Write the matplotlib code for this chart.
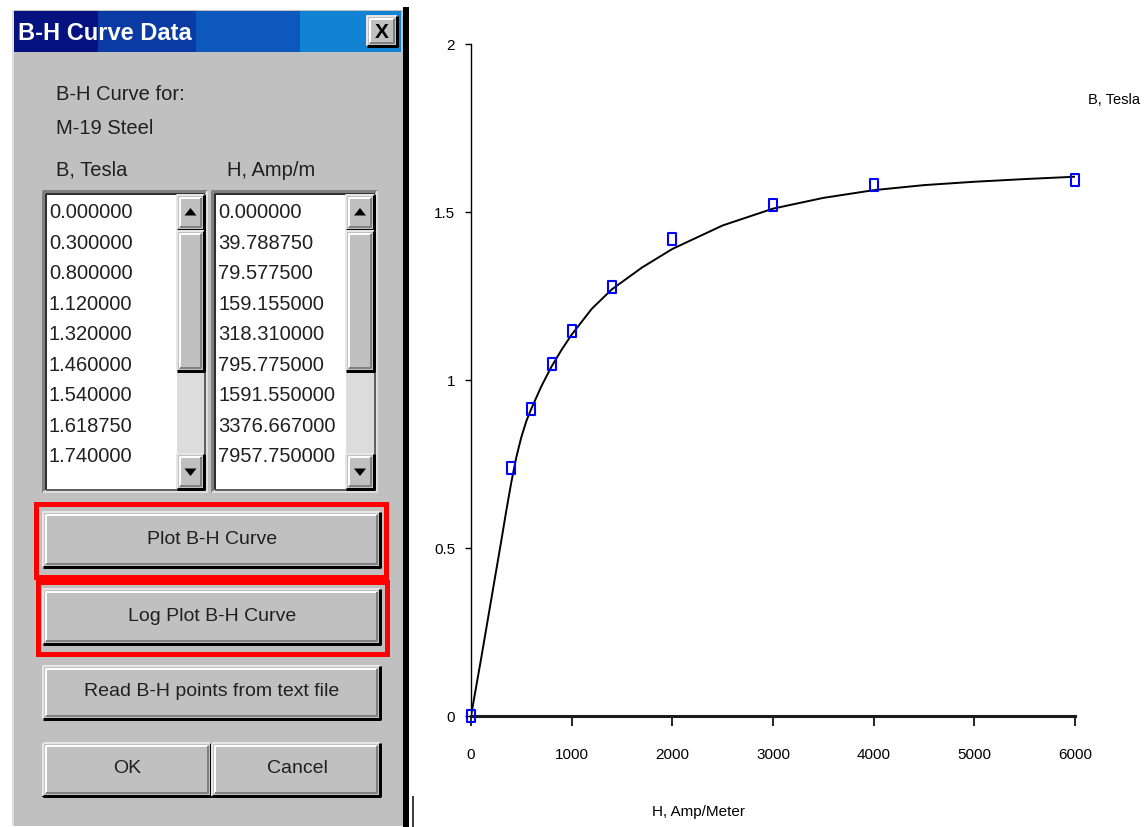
import matplotlib
matplotlib.use("Agg")
import matplotlib.pyplot as plt
from matplotlib.patches import Rectangle
from matplotlib.path import Path

plt.rcParams["font.family"] = ["Liberation Sans Narrow", "Liberation Sans", "DejaVu Sans"]

# =========================
# Data
# =========================

# values shown in the dialog list boxes
list_b = ["0.000000", "0.300000", "0.800000", "1.120000", "1.320000",
          "1.460000", "1.540000", "1.618750", "1.740000"]
list_h = ["0.000000", "39.788750", "79.577500", "159.155000", "318.310000",
          "795.775000", "1591.550000", "3376.667000", "7957.750000"]

# plotted B-H points (blue squares)
pts_h = [0, 400, 600, 800, 1000, 1400, 2000, 3000, 4000, 6000]
pts_b = [0.0, 0.738, 0.914, 1.048, 1.146, 1.277, 1.42, 1.521, 1.58, 1.595]

# fitted curve
curve_h = [0, 100, 200, 300, 350, 400, 450, 500, 550, 600, 700, 800, 900, 1000,
           1200, 1400, 1700, 2000, 2500, 3000, 3500, 4000, 4500, 5000, 5500, 6000]
curve_b = [0.0, 0.17, 0.345, 0.52, 0.61, 0.695, 0.77, 0.83, 0.878, 0.915,
           0.982, 1.04, 1.09, 1.135, 1.212, 1.27, 1.335, 1.39, 1.46, 1.51,
           1.542, 1.565, 1.58, 1.59, 1.598, 1.605]

x_ticks = [0, 1000, 2000, 3000, 4000, 5000, 6000]
y_ticks = [0, 0.5, 1, 1.5, 2]
y_tick_labels = ["0", "0.5", "1", "1.5", "2"]

W, H = 1145, 828
PX = 0.72  # points per pixel at 100 dpi

fig = plt.figure(figsize=(W / 100, H / 100), dpi=100)
fig.patch.set_facecolor("white")

# pixel-space canvas for the dialog
ui = fig.add_axes([0, 0, 1, 1])
ui.set_xlim(0, W)
ui.set_ylim(H, 0)
ui.axis("off")

GRAY = "#c0c0c0"
TXT = "#202020"


def line(xs, ys, color, px=2):
    ui.plot(xs, ys, color=color, lw=px * PX, solid_capstyle="butt")


def raised(x0, y0, x1, y1, face=GRAY, default=False):
    ui.add_patch(Rectangle((x0, y0), x1 - x0, y1 - y0, fc=face, ec="none"))
    line([x0, x0, x1], [y1, y0, y0], "#e6e6e6")
    line([x0, x1, x1], [y1, y1, y0], "#000000", 3)
    line([x0 + 2.5, x0 + 2.5, x1 - 3], [y1 - 3, y0 + 2.5, y0 + 2.5], "#ffffff")
    line([x0 + 2.5, x1 - 3, x1 - 3], [y1 - 3, y1 - 3, y0 + 2.5], "#808080")
    if default:
        ui.add_patch(Rectangle((x0, y0), x1 - x0, y1 - y0, fc="none",
                               ec="black", lw=2 * PX))


def sunken(x0, y0, x1, y1, face="white"):
    ui.add_patch(Rectangle((x0, y0), x1 - x0, y1 - y0, fc=face, ec="none"))
    line([x0, x0, x1], [y1, y0, y0], "#808080", 3)
    line([x0, x1, x1], [y1, y1, y0], "#dfdfdf", 2)
    line([x0 + 3, x0 + 3, x1 - 2], [y1 - 2, y0 + 3, y0 + 3], "#303030", 2)
    line([x0 + 3, x1 - 2, x1 - 2], [y1 - 2, y1 - 2, y0 + 3], "#606060", 2)


def arrow(cx, cy, up=True):
    s = 5 if up else -5
    ui.fill([cx - 6, cx + 6, cx], [cy + s / 2, cy + s / 2, cy - s], color="black", lw=0)


# dialog body
ui.add_patch(Rectangle((12, 11), 391, 816, fc=GRAY, ec="none"))
line([13, 13], [11, 827], "#e0e0e0", 2)
line([406, 406], [8, 828], "#000000", 6)
line([413, 413], [797, 828], "#000000", 1.5)

# title bar
for x0, x1, c in [(14, 98, "#06127f"), (98, 196, "#0a3aa3"),
                  (196, 300, "#0c58bc"), (300, 401, "#1282d2")]:
    ui.add_patch(Rectangle((x0, 12), x1 - x0, 41, fc=c, ec="none"))
ui.text(18, 33, "B-H Curve Data", color="white", fontsize=17,
        fontweight="bold", va="center", ha="left")
raised(367, 17, 397, 47)
ui.text(382, 32, "X", fontsize=15, fontweight="bold", ha="center", va="center")

# labels
ui.text(56, 94, "B-H Curve for:", fontsize=14.5, va="center", color=TXT)
ui.text(56, 128, "M-19 Steel", fontsize=14.5, va="center", color=TXT)
ui.text(56, 170, "B, Tesla", fontsize=14.5, va="center", color=TXT)
ui.text(227, 170, "H, Amp/m", fontsize=14.5, va="center", color=TXT)

# list boxes with scrollbars
for (x0, x1, sb0), values in [((43, 207, 177), list_b), ((212, 377, 346), list_h)]:
    sunken(x0, 192, x1, 493)
    ui.add_patch(Rectangle((sb0, 196), x1 - 3 - sb0, 294, fc="#dcdcdc", ec="none"))
    raised(sb0, 196, x1 - 3, 231)
    arrow((sb0 + x1 - 3) / 2, 214, up=True)
    raised(sb0, 232, x1 - 3, 372)
    raised(sb0, 455, x1 - 3, 490)
    arrow((sb0 + x1 - 3) / 2, 472, up=False)
    for i, v in enumerate(values):
        ui.text(x0 + 6, 213 + 30.5 * i, v, fontsize=14.5, va="center",
                ha="left", color=TXT)

# buttons
raised(43, 513, 380, 568)
ui.text(212, 540, "Plot B-H Curve", fontsize=14, ha="center", va="center", color=TXT)
raised(43, 590, 380, 645)
ui.text(212, 617, "Log Plot B-H Curve", fontsize=14, ha="center", va="center", color=TXT)
raised(43, 667, 380, 720)
ui.text(212, 692, "Read B-H points from text file", fontsize=14, ha="center",
        va="center", color=TXT)
raised(43, 744, 211, 797, default=True)
ui.text(127, 769, "OK", fontsize=14, ha="center", va="center", color=TXT)
raised(212, 744, 380, 797)
ui.text(297, 769, "Cancel", fontsize=14, ha="center", va="center", color=TXT)

# red highlight frames
ui.add_patch(Rectangle((35.5, 504.5), 350, 73, fc="none", ec="#ff0000", lw=5 * PX))
ui.add_patch(Rectangle((37.5, 582.5), 349, 72, fc="none", ec="#ff0000", lw=5 * PX))

# =========================
# B-H plot
# =========================

ax = fig.add_axes([471 / W, 1 - 717 / H, (1075 - 471) / W, (717 - 45) / H])
ax.patch.set_alpha(0)

ax.plot(curve_h, curve_b, color="black", lw=1.4, zorder=2)

sq = Path([(-0.32, -0.5), (0.32, -0.5), (0.32, 0.5), (-0.32, 0.5), (-0.32, -0.5)],
          closed=True)
ax.plot(pts_h, pts_b, linestyle="none", marker=sq, markersize=9,
        markerfacecolor="none", markeredgecolor="#0000ff", markeredgewidth=1.5,
        clip_on=False, zorder=3)

ax.set_xlim(0, 6000)
ax.set_ylim(0, 2)
ax.set_xticks(x_ticks)
ax.set_xticklabels([str(t) for t in x_ticks])
ax.set_yticks(y_ticks)
ax.set_yticklabels(y_tick_labels)

ax.spines["top"].set_visible(False)
ax.spines["right"].set_visible(False)
ax.spines["left"].set_linewidth(1.0)
ax.spines["bottom"].set_linewidth(2.2)
ax.spines["bottom"].set_color("#1a1a1a")

ax.tick_params(axis="y", direction="out", length=4.5, width=1.0, pad=7,
               labelsize=11)
ax.tick_params(axis="x", direction="out", length=7.5, width=1.2, pad=15,
               labelsize=11)

fig.text(699 / W, 1 - 812 / H, "H, Amp/Meter", fontsize=11, ha="center", va="center")
fig.text(1088 / W, 1 - 100 / H, "B, Tesla", fontsize=10.5, ha="left", va="center")

fig.savefig("out.png", dpi=100)
plt.close(fig)
